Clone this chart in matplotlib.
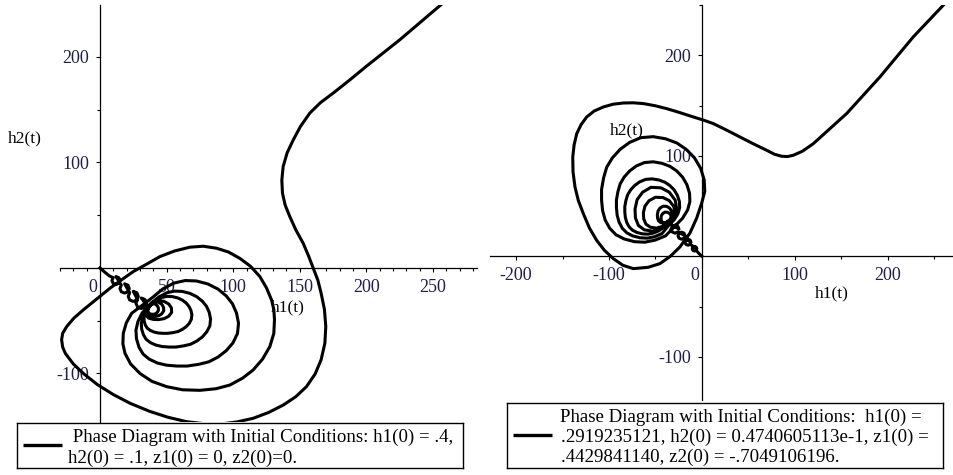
import matplotlib
matplotlib.use('Agg')
import matplotlib.pyplot as plt
from matplotlib.ticker import MultipleLocator
from matplotlib.transforms import ScaledTranslation

plt.rcParams['font.family'] = ['Liberation Serif', 'DejaVu Serif']
plt.rcParams['axes.unicode_minus'] = False

## left phase curve: h1(t), h2(t)  (curls, inner loops, outer loops, escape)
left_h1 = [
    0, 3.5, 7,
    9.9, 9, 9.9, 12, 14.1, 15, 14.1, 12,
    16, 15, 16, 18.5, 21, 22, 21, 18.5,
    22.3, 21.2, 22.3, 25, 27.7, 28.8, 27.7, 25,
    28.2, 27, 28.2, 31, 33.8, 35, 33.8, 31,
    36.5, 36, 36.2, 37, 38.4, 40, 41.7, 43, 43.9, 43.8, 43, 41.6, 39.8, 38.1,
    35.8, 35, 35.4, 36.7, 38.9, 41.5, 44.2, 46.4, 47.9, 47.7, 46.4, 44.1, 41.2, 38.4,
    35.2, 34, 34.6, 36.6, 40, 44, 48.2, 51.6, 53.8, 53.6, 51.6, 48, 43.6, 39.2,
    35.2, 33.7, 33, 33.2, 34.1, 35.5, 37.7, 40.6, 43.8, 47.4, 51, 55, 58.6, 61.8,
    64.7, 67, 68.6, 69, 68.3, 66.8, 64.7, 61.8, 58.2, 54.2, 50.3, 46.3, 42.4, 38.8,
    34.1, 32, 31, 31.3, 32.6, 34.6, 37.8, 41.9, 46.6, 51.8, 57, 62.7, 67.9, 72.6,
    76.8, 80.1, 82.5, 83, 82, 79.9, 76.8, 72.6, 67.4, 61.7, 56, 50.2, 44.5, 39.3,
    31.6, 28.5, 27, 27.4, 29.3, 32.4, 37, 43.2, 50.1, 57.8, 65.5, 74, 81.7, 88.6,
    94.8, 99.8, 103.2, 104, 102.5, 99.4, 94.8, 88.6, 80.9, 72.4, 64, 55.5, 47, 39.3,
    23.8, 19.8, 17.5, 17.2, 18.8, 23, 30, 39, 50, 62, 75, 87, 97.5, 107, 115, 122,
    127.5, 130.5, 131, 130.5, 128.8, 125, 120, 113, 105, 96.5, 87.5, 77.5, 67.5, 56, 45, 35, 25,
    16, 7.5, -2.5, -12.5, -19.5, -25, -28, -28.8, -28, -26, -20, -12.5, -2, 10, 23, 37.5,
    51, 65, 77.5, 90, 102.5, 115, 126.5, 137.5, 147, 155, 161.5, 166, 168.8, 169.5,
    168.5, 166, 163.5, 160, 156.5, 152.5, 147, 142.5, 139, 137, 136.5, 137.5, 140.5,
    145, 150.5, 157.5, 165.5, 175, 187.5, 200, 225, 257.5, 290]
left_h2 = [
    0, -4, -7.5,
    -9.3, -12, -14.7, -15.8, -14.7, -12, -9.3, -8.2,
    -16.4, -19.5, -22.6, -23.9, -22.6, -19.5, -16.4, -15.1,
    -23.6, -27, -30.4, -31.8, -30.4, -27, -23.6, -22.2,
    -30, -33.5, -37, -38.5, -37, -33.5, -30, -28.5,
    -37.8, -39.8, -41.8, -43.2, -43.9, -44, -43.5, -42.2, -40.2, -37.8, -35.8, -34.4, -34, -35,
    -37.3, -40.1, -42.9, -44.9, -45.9, -46, -45.3, -43.5, -40.7, -37.3, -34.5, -32.6, -32, -33.4,
    -37.8, -41.4, -45, -47.6, -48.8, -49, -48.1, -45.8, -42.2, -37.8, -34.2, -31.7, -31, -32.8,
    -40.3, -43.8, -47.3, -50.8, -54.3, -57.1, -59.2, -60.8, -61.7, -62, -62, -61.3, -60.3, -58.3,
    -55.7, -52.6, -48.7, -44.5, -40.3, -36.5, -33.3, -30.5, -28.4, -27.2, -27, -28.1, -30.5, -34,
    -42.1, -47.4, -52.7, -58, -63.3, -67.6, -70.8, -73.1, -74.5, -75, -75, -73.9, -72.4, -69.4,
    -65.5, -60.7, -54.9, -48.5, -42.1, -36.3, -31.5, -27.3, -24.1, -22.3, -22, -23.6, -27.3, -32.6,
    -42.8, -50.9, -59, -67.1, -75.2, -81.7, -86.5, -90.2, -92.2, -93, -93, -91.4, -89, -84.5,
    -78.4, -71.1, -62.2, -52.5, -42.8, -33.9, -26.6, -20.1, -15.2, -12.4, -12, -14.4, -20.1, -28.2,
    -43, -52, -62, -72, -81, -91, -100, -107.5, -112.5, -115.5, -116, -114.5, -111, -104.5, -96.7, -86.5,
    -74.6, -62, -49, -39.5, -30.4, -19, -8.2, 1.5, 9, 15, 18.6, 20.5, 19.6, 16, 10.7, 3.5, -3.5,
    -11.5, -19.3, -29.5, -39.8, -47.5, -55.6, -62, -68, -75, -81, -91, -100, -110.5, -120, -128.5, -136,
    -141.5, -145.7, -147.5, -148, -146, -142.5, -137, -130, -122, -112.5, -100.5, -87, -71.5, -55.6,
    -39.5, -24, -11.5, 0, 11.5, 23.4, 36, 48.6, 59.5, 70.7, 83, 96, 109,
    121, 134, 146.6, 156.5, 165.5, 178, 191, 216, 251, 285]

## right phase curve
right_h1 = [
    0, -3,
    -6.2, -8, -9.8, -10.5, -9.8, -8, -6.2, -5.5,
    -12.7, -15, -17.3, -18.2, -17.3, -15, -12.7, -11.8,
    -19.3, -22, -24.7, -25.8, -24.7, -22, -19.3, -18.2,
    -26, -29, -32, -33.3, -32, -29, -26, -24.7,
    -37.2, -39.4, -41.6, -43.1, -43.9, -44, -43.5, -42, -39.8, -37.2, -35, -33.4, -33, -34.1,
    -38.1, -41.3, -44.5, -46.7, -47.8, -48, -47.2, -45.1, -41.9, -38.1, -34.9, -32.6, -32, -33.6,
    -41.9, -48.7, -55.5, -60.3, -62.7, -63, -61.3, -56.9, -50.1, -41.9, -35.1, -30.4, -29, -32.4,
    -44.1, -53.1, -62.1, -68.4, -71.6, -72, -69.8, -63.9, -54.9, -44.1, -35.1, -28.8, -27, -31.5,
    -46.4, -52.3, -58.2, -64.1, -70, -74.7, -78.3, -80.9, -82.4, -83, -83, -81.8, -80, -76.8,
    -72.4, -67.1, -60.6, -53.5, -46.4, -39.9, -34.6, -29.9, -26.4, -24.3, -24, -25.8, -29.9, -35.8,
    -43, -50.9, -58.8, -66.7, -74.6, -80.9, -85.7, -89.2, -91.2, -92, -92, -90.4, -88, -83.7,
    -77.8, -70.7, -62, -52.5, -43, -34.3, -27.2, -20.9, -16.2, -13.4, -13, -15.4, -20.9, -28.8,
    -39.2, -50.3, -61.4, -72.5, -83.6, -92.5, -99.1, -104.1, -106.9, -108, -108, -105.8, -102.5,
    -96.3, -88, -78, -65.8, -52.5, -39.2, -27, -17, -8.1, -1.4, 2.4, 3, -0.3,
    -5.7, -13, -23.7, -34, -45.2, -58, -73.8, -85, -95.3, -105, -113.3, -121, -127.6, -133,
    -136.6, -138.7, -139, -137.5, -134.7, -130, -124, -116, -106, -95.5, -84.6, -74, -63,
    -50.5, -38, -24, -9.3, 1.5, 12.2, 26.5, 40.9, 55, 69.5, 78, 85.7, 92, 98.2, 108, 119.7,
    137, 155.6, 191.4, 227.2, 261.3, 290]
right_h2 = [
    0, 2.5,
    5.9, 5.2, 5.9, 7.5, 9.1, 9.8, 9.1, 7.5,
    11.9, 11, 11.9, 14, 16.1, 17, 16.1, 14,
    18, 17, 18, 20.5, 23, 24, 23, 20.5,
    24.2, 23, 24.2, 27, 29.8, 31, 29.8, 27,
    33.7, 33, 33.3, 34.4, 36.3, 38.5, 40.8, 42.7, 43.9, 43.8, 42.7, 40.7, 38.3, 35.9,
    34, 33, 33.5, 35.2, 38.1, 41.5, 45.1, 48, 49.8, 49.7, 48, 44.9, 41.2, 37.4,
    29.9, 28, 28.9, 32, 37.3, 43.5, 50, 55.3, 58.7, 58.4, 55.3, 49.7, 42.9, 36.1,
    27.6, 25, 26.3, 30.7, 38.2, 47, 56.2, 63.7, 68.6, 68.1, 63.7, 55.8, 46.1, 36.4,
    25.3, 23.1, 22, 22.3, 23.7, 25.9, 29.2, 33.6, 38.5, 44, 49.5, 55.6, 61, 66,
    70.4, 74, 76.5, 77, 75.9, 73.7, 70.4, 66, 60.5, 54.5, 48.4, 42.4, 36.3, 30.8,
    22.6, 19.5, 18, 18.4, 20.3, 23.3, 27.9, 34, 40.8, 48.4, 56, 64.4, 72, 78.8,
    84.9, 89.8, 93.2, 94, 92.5, 89.4, 84.9, 78.8, 71.2, 62.8, 54.5, 46.1, 37.8, 30.2,
    20.3, 16.1, 14, 14.5, 17.2, 21.4, 27.7, 36, 45.5, 56, 66.5, 78, 88.6,
    98, 106.4, 113.2, 118, 119, 116.9, 112.7, 106.4, 98, 87.5, 76, 64.4, 52.9,
    38, 23, 9.3, 0, -7.3, -11, -12.3, -9, -2.4, 6, 15.9, 28, 42.4, 55.5,
    69, 84, 98.8, 111, 122, 131, 138.6, 144.5, 148.6, 151.3, 152.5, 152.7, 151.9,
    149.8, 146.9, 143, 138.6, 135.5, 132, 125.5, 118.7, 112, 105.5, 101.5, 99.5, 99.2, 100.5, 104.5, 112,
    126.5, 142, 178.4, 218.2, 251.4, 280]

left_xticks = [0, 50, 100, 150, 200, 250]
left_yticks = [-100, 100, 200]
right_xticks = [-200, -100, 0, 100, 200]
right_yticks = [-100, 100, 200]

left_legend = [" Phase Diagram with Initial Conditions: h1(0) = .4,",
               "h2(0) = .1, z1(0) = 0, z2(0)=0."]
right_legend = ["Phase Diagram with Initial Conditions:  h1(0) =",
                ".2919235121, h2(0) = 0.4740605113e-1, z1(0) =",
                ".4429841140, z2(0) = -.7049106196."]

W, H = 954, 475
TICKCOL = '#1e1e46'
fig = plt.figure(figsize=(W/100, H/100), dpi=100)


def box(x0, y0, x1, y1):
    # pixel box (from top-left) -> figure fraction
    return [x0/W, 1 - y1/H, (x1 - x0)/W, (y1 - y0)/H]


def phase_axes(rect, xlim, ylim, xticks, yticks, xminor, yminor):
    ax = fig.add_axes(rect)
    ax.set_xlim(*xlim)
    ax.set_ylim(*ylim)
    for s in ['top', 'right']:
        ax.spines[s].set_visible(False)
    for s in ['left', 'bottom']:
        ax.spines[s].set_position(('data', 0))
        ax.spines[s].set_linewidth(0.9)
    ax.set_xticks(xticks, [str(t) for t in xticks])
    ax.set_yticks(yticks, [str(t) for t in yticks])
    ax.xaxis.set_minor_locator(MultipleLocator(xminor))
    ax.yaxis.set_minor_locator(MultipleLocator(yminor))
    ax.tick_params(which='major', direction='out', length=3.2, width=0.8,
                   labelsize=13, labelcolor=TICKCOL, pad=4.5)
    ax.tick_params(which='minor', direction='out', length=2.2, width=0.8)
    ax.patch.set_alpha(0)
    # Maple puts the 0 just left of the vertical axis
    for lbl in ax.get_xticklabels():
        if lbl.get_text() == '0':
            lbl.set_horizontalalignment('right')
            lbl.set_transform(lbl.get_transform() + ScaledTranslation(-2/72, 0, fig.dpi_scale_trans))
    return ax


def legend_box(rect, wpx, hpx, liney, lines, xs, ys):
    lax = fig.add_axes(box(*rect))
    lax.set_xlim(0, wpx)
    lax.set_ylim(hpx, 0)
    lax.set_xticks([])
    lax.set_yticks([])
    for s in lax.spines.values():
        s.set_linewidth(1.0)
    lax.plot([6, 45], [liney, liney], color='black', lw=2.4, solid_capstyle='butt')
    for txt, x, y in zip(lines, xs, ys):
        lax.text(x, y, txt, fontsize=13.6, va='center', ha='left', color='black')
    return lax


ax1 = phase_axes(box(60, 5, 477, 422), (-30, 283), (-146, 249),
                 left_xticks, left_yticks, 10, 50)
ax1.plot(left_h1, left_h2, color='black', lw=2.2, solid_joinstyle='round')
fig.text(288/W, 1 - 307/H, 'h1(t)', fontsize=12.5, ha='center', va='center')
fig.text(25/W, 1 - 138/H, 'h2(t)', fontsize=12.5, ha='center', va='center')

ax2 = phase_axes(box(490, 5, 953, 400), (-228, 270), (-143, 250),
                 right_xticks, right_yticks, 50, 50)
ax2.plot(right_h1, right_h2, color='black', lw=2.2, solid_joinstyle='round')
fig.text(832/W, 1 - 293/H, 'h1(t)', fontsize=12.5, ha='center', va='center')
fig.text(627/W, 1 - 130/H, 'h2(t)', fontsize=12.5, ha='center', va='center')

legend_box((17, 423, 463, 468), 446, 45, 22, left_legend, [51, 51], [14, 35])
legend_box((507, 403, 943, 468), 436, 65, 32, right_legend, [53, 54, 54], [14, 34, 54])

fig.savefig('out.png', dpi=100)
